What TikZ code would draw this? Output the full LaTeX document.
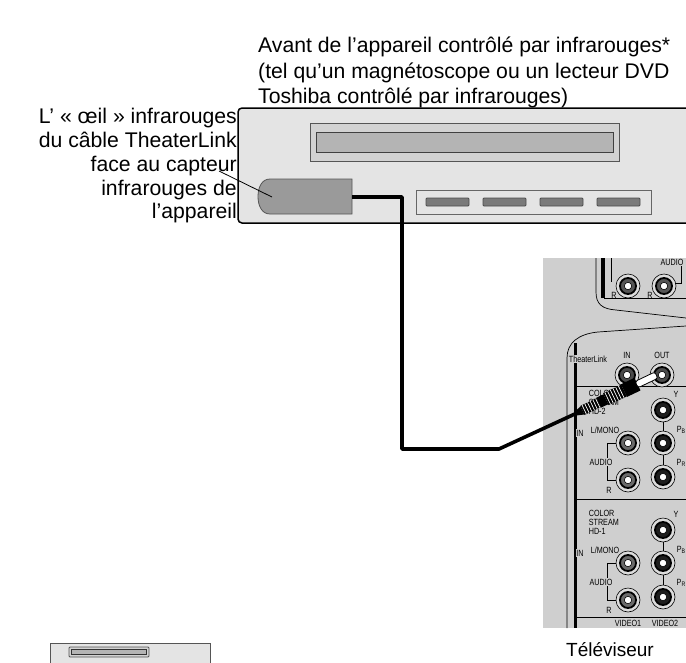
\documentclass[tikz,border=0pt]{standalone}
\usepackage{fontspec}
\setmainfont{Liberation Sans}
\newfontfamily\panelfont[FakeStretch=0.8]{Liberation Sans}
\definecolor{casing}{HTML}{E4E4E4}
\definecolor{slotouter}{HTML}{D2D2D2}
\definecolor{slotinner}{HTML}{B4B4B4}
\definecolor{eyegray}{HTML}{9A9A9A}
\definecolor{edgegray}{HTML}{555555}
\definecolor{btngray}{HTML}{7A7A7A}
\definecolor{panel}{HTML}{CFCFCF}
\definecolor{ringgray}{HTML}{DCDCDC}
\definecolor{audiocore}{HTML}{6A6A6A}
\definecolor{videocore}{HTML}{1E1E1E}
\definecolor{linkcore}{HTML}{4A4A4A}

% RCA socket: x, y, colour of the core
\newcommand{\rcajack}[3]{%
  \draw[line width=0.6pt, fill=ringgray] (#1,#2) circle (12);
  \draw[line width=1.8pt, fill=#3] (#1,#2) circle (8);
  \draw[line width=0.6pt, fill=white] (#1,#2) circle (3.7);
}

\begin{document}
\begin{tikzpicture}[x=1pt,y=-1pt,
  caption/.style={font=\fontsize{21.2}{25}\selectfont, inner sep=0pt, anchor=base west},
  sidelabel/.style={font=\fontsize{21.2}{24}\selectfont, inner sep=0pt, anchor=base east},
  tinytext/.style={font=\panelfont\fontsize{9}{9.5}\selectfont, inner sep=0.6pt},
  tinyfill/.style={tinytext, fill=panel},
  thin/.style={line width=0.6pt},
  cable/.style={line width=3.6pt, line join=round},
]
\useasboundingbox (0,0) rectangle (686,662);
\clip (0,0) rectangle (686,662);

% ---------- captions ----------
\node[caption] (cap1) at (258,52) {Avant de l’appareil contrôlé par infrarouges*};
\node[caption] (cap2) at (258,78) {(tel qu’un magnétoscope ou un lecteur DVD};
\node[caption] (cap3) at (258,103) {Toshiba contrôlé par infrarouges)};

\node[sidelabel] (side1) at (237,123) {L’ « œil » infrarouges};
\node[sidelabel] (side2) at (237,147) {du câble TheaterLink};
\node[sidelabel] (side3) at (237,171) {face au capteur};
\node[sidelabel] (side4) at (237,195) {infrarouges de};
\node[sidelabel] (side5) at (237,218) {l’appareil};

% ---------- IR-controlled device ----------
\draw[line width=1.5pt, fill=casing, rounded corners=4pt] (238,108) rectangle (720,223);
\draw[edgegray, line width=1pt, fill=slotouter] (310,123) rectangle (619,161);
\draw[black!75, line width=1pt, fill=slotinner] (316,132) rectangle (613,152);
\draw[edgegray!90, line width=0.8pt, fill=casing] (416,190) rectangle (651,214);
\foreach \bx in {426,483,540,597}
  \draw[black!70, line width=0.8pt, fill=btngray, rounded corners=1pt] (\bx,198) rectangle ++(43,8);

% IR eye of the TheaterLink cable
\draw[edgegray, line width=0.8pt, fill=eyegray]
  (352,179) -- (270,179) .. controls (262,179) and (258,187) .. (258,196.5)
  .. controls (258,206) and (262,214) .. (270,214) -- (352,214) -- cycle;
\coordinate (eyeport) at (352,197);
\coordinate (eyecentre) at (272,197);
\coordinate (leaderstart) at (219,171);
\draw[line width=0.8pt] (leaderstart) -- (eyecentre);

% ---------- TV rear panel ----------
\fill[panel] (543,258) rectangle (686,628);

% upper jack group
\draw[line width=0.7pt] (596,258) -- (596,292) .. controls (596,304) and (602,309) .. (616,310) -- (686,318);
\fill (601,258) rectangle (604.5,298);
\draw[thin] (611,258) -- (611,282);
\draw[thin] (604,298.5) -- (686,298.5);
\draw[thin] (681,266) -- (681,283) -- (676,283);
\rcajack{628}{286}{edgegray}
\rcajack{664}{286}{edgegray}
\node[tinytext] (ra) at (614,295) {R};
\node[tinytext] (rb) at (650,295) {R};
\node[tinytext] (audtop) at (672,262) {AUDIO};

% TheaterLink / ColorStream group
\draw[line width=0.7pt] (686,326) -- (598,332) .. controls (578,334) and (567,343) .. (567,358) -- (567,628);
\fill (573.5,343) rectangle (577,628);
\draw[thin] (577,386.5) -- (686,386.5);
\draw[thin] (577,499.5) -- (686,499.5);
\draw[thin] (577,617.5) -- (686,617.5);

\node[tinyfill] (tl) at (588,359) {TheaterLink};
\node[tinytext] (tlin) at (627,355) {IN};
\node[tinytext] (tlout) at (662,355) {OUT};
\rcajack{627}{375}{linkcore}
\rcajack{662}{375}{linkcore}
\coordinate (outjack) at (662,375);

\foreach \o/\hd in {0/2,120/1}{
  \draw[thin] (663,410+\o) -- (663,477+\o);
  \draw[thin] (617,443+\o) -- (607,443+\o) -- (607,480+\o) -- (617,480+\o);
  \rcajack{663}{410+\o}{videocore}
  \rcajack{663}{443+\o}{videocore}
  \rcajack{663}{477+\o}{videocore}
  \rcajack{628}{443+\o}{audiocore}
  \rcajack{628}{480+\o}{audiocore}
  \node[tinytext, anchor=west] at (588,393+\o) {COLOR};
  \node[tinytext, anchor=west] at (588,402+\o) {STREAM};
  \node[tinytext, anchor=west] at (588,411+\o) {HD-\hd};
  \node[tinytext] at (676,394+\o) {Y};
  \node[tinytext] at (681,430+\o) {P\raisebox{-0.6pt}{\fontsize{6.5}{6.5}\selectfont B}};
  \node[tinytext] at (681,463+\o) {P\raisebox{-0.6pt}{\fontsize{6.5}{6.5}\selectfont R}};
  \node[tinytext] at (605,430+\o) {L/MONO};
  \node[tinyfill] at (601,462+\o) {AUDIO};
  \node[tinytext] at (609,490+\o) {R};
  \node[tinyfill] at (580,433+\o) {IN};
}
\node[tinytext] (v1) at (628,623) {VIDEO1};
\node[tinytext] (v2) at (665,623) {VIDEO2};

% ---------- TheaterLink cable and plug ----------
\coordinate (plugtail) at (577,413);
\draw[cable] (eyeport) -- (402,197) -- (402,449) -- (499,449) -- (plugtail);
\begin{scope}[shift={(plugtail)}, rotate=25.5]
  \fill (-1,-2.2) -- (6,-4.5) -- (6,4.5) -- (-1,2.2) -- cycle;
  \fill (6,-5) rectangle (24,5);
  \foreach \t in {8,11,...,23} \draw[white, line width=0.7pt] (\t,-5) -- (\t,5);
  \fill (24,-5.5) rectangle (32,5.5);
  \fill (32,-6.5) rectangle (52,6.5);
  \foreach \t in {34,37,...,50} \draw[white, line width=0.7pt] (\t,-6.5) -- (\t,6.5);
  \fill (52,-7) rectangle (67,7);
  \draw[line width=0.8pt, fill=white, rounded corners=2.5pt] (66,-3.5) rectangle (88,3.5);
\end{scope}

% ---------- second device, partly shown ----------
\draw[edgegray, line width=0.8pt, fill=casing] (50,670) -- (50,643) -- (210,643) -- (210,670);
\draw[edgegray, line width=0.8pt, fill=slotouter, rounded corners=1pt] (69,647) rectangle (149,657);
\draw[black!80, line width=0.8pt, fill=slotinner] (71.5,649.5) rectangle (146.5,654.5);

\node[font=\fontsize{19}{22}\selectfont, inner sep=0pt] (tvlabel) at (610,650) {Téléviseur};
\end{tikzpicture}
\end{document}
